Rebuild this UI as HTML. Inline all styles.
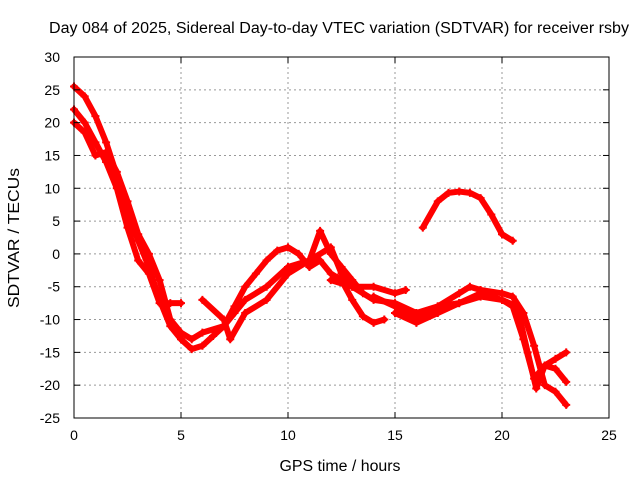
<!DOCTYPE html>
<html><head><meta charset="utf-8"><style>
body{margin:0;background:#fff}
svg text{font-family:"Liberation Sans",sans-serif;font-size:14px;fill:#000}
</style></head><body>
<svg id="chart" width="640" height="480">
<text x="339" y="33" text-anchor="middle" textLength="580" lengthAdjust="spacingAndGlyphs" style="font-size:15.5px">Day 084 of 2025, Sidereal Day-to-day VTEC variation (SDTVAR) for receiver rsby</text>
<text x="340" y="471" text-anchor="middle" textLength="121" lengthAdjust="spacingAndGlyphs" style="font-size:15.5px">GPS time / hours</text>
<text transform="translate(19,238) rotate(-90)" text-anchor="middle" textLength="140" lengthAdjust="spacingAndGlyphs" style="font-size:15.5px">SDTVAR / TECUs</text>
<g id="grid"></g><g id="series"></g><g id="axes"></g>
</svg>
<script>
const xTicks=[0,5,10,15,20,25];
const yTicks=[30,25,20,15,10,5,0,-5,-10,-15,-20,-25];
const s1=[[0,25.5],[0.5,24],[1,21],[1.5,17],[2,12],[2.5,6],[3,2],[3.5,-2],[4,-7],[4.5,-11],[5,-13],[5.5,-14.5],[6,-14],[6.5,-12.5],[7,-11],[7.5,-8],[8,-5],[8.5,-3],[9,-1],[9.5,0.5],[10,1],[10.5,0],[11,-2],[11.5,-1],[12,-3],[12.5,-4],[13,-7],[13.5,-9.5],[14,-10.5],[14.5,-10]];
const s2=[[0,22],[0.5,20],[1,17],[1.5,14],[2,10],[2.5,4],[3,-1],[3.5,-3],[4,-7.5],[4.5,-7.5],[5,-7.5]];
const s3=[[0,20],[0.5,18.5],[1,15],[1.5,15.5],[2,12.5],[2.5,8],[3,3],[3.5,0],[4,-4],[4.5,-10],[5,-12],[5.5,-13],[6,-12],[7,-11],[7.5,-9],[8,-7],[9,-5],[10,-2],[11,-1],[11.5,3.5],[12,0],[12.5,-2],[13,-4],[13.5,-6]];
const s4=[[6,-7],[7,-10],[7.3,-13],[8,-9],[9,-7],[10,-3],[11,-1],[12,1],[12.5,-3],[13,-5],[14,-7],[15,-7.5],[16,-9],[17,-8],[18,-7.5],[19,-6],[20,-7],[20.5,-8],[21,-13],[21.5,-19],[22,-17],[22.5,-16],[23,-15]];
const s5=[[12,-4],[13,-5],[14,-5],[15,-6],[15.5,-5.5]];
const s6=[[14,-6.5],[15,-8],[16,-10],[17,-8],[18,-6],[18.5,-5],[19,-5.5],[20,-6],[20.5,-6.5],[21,-9],[21.5,-14],[22,-20],[22.5,-21],[23,-23]];
const s7=[[16.3,4],[17,8],[17.5,9.3],[18,9.5],[18.5,9.3],[19,8.5],[19.5,6],[20,3],[20.5,2]];
const s8=[[15,-9],[16,-10.5],[17,-9],[18,-7.5],[19,-6.5],[20,-7],[20.7,-8],[21.2,-15],[21.6,-20.5],[22,-17],[22.5,-17.5],[23,-19.5]];
const allSeries=[s1,s2,s3,s4,s5,s6,s7,s8];
const X0=74,X1=609,Y0=418,Y1=57;
const xs=v=>X0+(v-0)/25*(X1-X0);
const ys=v=>Y0-(v+25)/55*(Y0-Y1);
const NS="http://www.w3.org/2000/svg";
function mk(tag,attrs,parent){const e=document.createElementNS(NS,tag);for(const k in attrs)e.setAttribute(k,attrs[k]);parent.appendChild(e);return e;}
const grid=document.getElementById('grid'),axes=document.getElementById('axes'),ser=document.getElementById('series');
xTicks.forEach(t=>{
  const x=xs(t);
  if(t>0&&t<25){const g=mk('line',{x1:x,x2:x,y1:Y1,y2:Y0,stroke:'#999','stroke-dasharray':'2,3'},grid);
  
  }
  mk('line',{x1:x,x2:x,y1:Y0,y2:Y0-6,stroke:'#000'},axes);
  mk('line',{x1:x,x2:x,y1:Y1,y2:Y1+6,stroke:'#000'},axes);
  const tx=mk('text',{x:x,y:Y0+22,'text-anchor':'middle'},axes);tx.textContent=t;
  
  
});
yTicks.forEach(t=>{
  const y=ys(t);
  if(t>-25&&t<30){const g=mk('line',{x1:X0,x2:X1,y1:y,y2:y,stroke:'#999','stroke-dasharray':'2,3'},grid);
  
  }
  mk('line',{x1:X0,x2:X0+6,y1:y,y2:y,stroke:'#000'},axes);
  mk('line',{x1:X1,x2:X1-6,y1:y,y2:y,stroke:'#000'},axes);
  const tx=mk('text',{x:X0-14,y:y+5,'text-anchor':'end'},axes);tx.textContent=t;
  
  
});
const fr=mk('rect',{x:X0,y:Y1,width:X1-X0,height:Y0-Y1,fill:'none',stroke:'#000'},axes);


allSeries.forEach((s,i)=>{
  const p=mk('polyline',{points:s.map(d=>xs(d[0])+','+ys(d[1])).join(' '),fill:'none',stroke:'#f00','stroke-width':6,'stroke-linejoin':'round','stroke-linecap':'round'},ser);
  
  
  s.forEach(d=>{
    const m=mk('path',{d:`M${xs(d[0])-4},${ys(d[1])}h8M${xs(d[0])},${ys(d[1])-4}v8`,stroke:'#f00','stroke-width':2},ser);
    
    
  });
});
</script>
</body></html>
